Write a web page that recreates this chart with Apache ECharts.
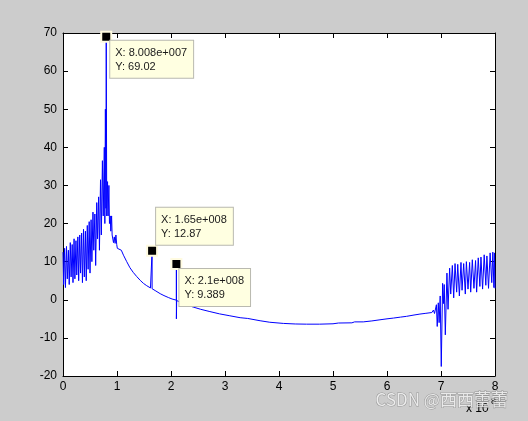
<!DOCTYPE html>
<html><head><meta charset="utf-8">
<script src="https://cdn.jsdelivr.net/npm/echarts@6/dist/echarts.min.js"></script>
<style>html,body{margin:0;padding:0;background:#cccccc;}#c{width:528px;height:421px;}</style>
</head><body><div id="c"></div>
<script>
// x in units of 1e8
var leftX = [0.000,0.012,0.030,0.045,0.065,0.080,0.100,0.115,0.135,0.150,0.170,0.185,0.205,0.220,0.240,0.255,0.275,0.290,0.310,0.325,0.345,0.360,0.380,0.395,0.415,0.430,0.450,0.465,0.485,0.500,0.520,0.535,0.555,0.570,0.590,0.605,0.625,0.640,0.660,0.675,0.695,0.710,0.730,0.745,0.765,0.775,0.785,0.795,0.8008,0.810,0.825,0.835,0.850,0.860,0.875,0.885,0.900,0.910,0.925,0.935,0.950,0.965,0.980,0.995];
var leftY = [12.5,4.0,13.5,3.2,14.0,5.5,13.0,4.0,15.0,6.0,14.5,4.5,16.0,5.5,15.5,6.5,16.5,5.0,17.0,7.0,17.5,4.5,18.5,6.0,18.0,5.0,19.5,8.0,20.5,7.0,21.0,10.0,23.0,13.0,22.5,9.0,25.5,16.0,27.0,13.0,31.5,17.0,36.5,22.0,40.0,20.0,50.0,24.0,69.02,22.0,31.0,22.0,30.0,20.0,22.0,18.0,22.0,17.0,17.0,15.0,16.5,14.8,17.0,14.5];
var midX = [1.006,1.08,1.12,1.18,1.24,1.30,1.365,1.43,1.49,1.55,1.62,1.65,1.65,1.65,1.72,1.80,1.87,1.95,2.02,2.1,2.1,2.1,2.105,2.2,2.3,2.41,2.55,2.72,2.9,3.09,3.28,3.42,3.43,3.45,3.65,3.83,4.08,4.10,4.30,4.51,4.75,5.0,5.10,5.13,5.35,5.40,5.56,5.72,5.87,6.00,6.12,6.25,6.36,6.50,6.61,6.72,6.83,6.86,6.88];
var midY = [13.5,13.0,11.7,10.0,8.4,7.2,6.1,5.1,4.3,3.7,3.1,2.9,12.87,2.9,2.3,1.6,1.1,0.6,0.2,-0.1,9.389,-5.0,-0.2,-0.8,-1.4,-1.9,-2.5,-3.1,-3.7,-4.2,-4.7,-4.9,-4.7,-5.1,-5.5,-5.9,-6.2,-6.0,-6.35,-6.4,-6.4,-6.3,-6.1,-6.25,-6.05,-5.8,-5.8,-5.55,-5.25,-5.0,-4.8,-4.55,-4.35,-4.0,-3.75,-3.55,-3.35,-2.7,-3.6];
var rightX = [6.90,6.915,6.93,6.95,6.965,6.985,7.005,7.03,7.045,7.06,7.08,7.11,7.13,7.16,7.18,7.21,7.235,7.26,7.29,7.31,7.34,7.37,7.39,7.42,7.45,7.47,7.50,7.53,7.55,7.58,7.61,7.64,7.66,7.69,7.72,7.74,7.77,7.80,7.83,7.85,7.88,7.91,7.94,7.96,7.98,7.99,8.00];
var rightY = [-4.0,-1.3,-7.0,-0.8,-6.0,1.0,-17.5,4.3,-1.0,4.0,-9.2,7.0,-2.5,8.3,1.5,9.0,0.5,9.5,2.0,9.3,1.0,9.8,2.5,9.5,1.5,10.0,2.8,9.8,2.0,10.5,3.0,10.3,2.0,11.0,3.5,11.2,2.8,11.8,3.8,11.5,3.0,12.3,4.5,12.5,3.2,12.3,3.0];
var tipX = [0.8008, 1.65, 2.1];
var tipY = [69.02, 12.87, 9.389];
var tipXText = ['8.008e+007', '1.65e+008', '2.1e+008'];
var tipYText = ['69.02', '12.87', '9.389'];
var xTicks = [0,1,2,3,4,5,6,7,8];
var yTicks = [-20,-10,0,10,20,30,40,50,60,70];

var allX = leftX.concat(midX, rightX);
var allY = leftY.concat(midY, rightY);
var lineData = allX.map(function(x,i){return [x, allY[i]];});

var FONT = '"Liberation Sans", Arial, sans-serif';
var tipPos = [[10,10,'top'],[10,0,'bottom'],[9,11,'top']];
var mp = tipX.map(function(x,i){
  return {
    coord:[x, tipY[i]],
    label:{
      show:true,
      position:[tipPos[i][0], tipPos[i][1]],
      align:'left',
      verticalAlign:tipPos[i][2],
      formatter:'X: '+tipXText[i]+'\nY: '+tipYText[i],
      backgroundColor:'#ffffe1',
      borderColor:'#b9b9b0',
      borderWidth:1,
      padding:[5,6,4,5],
      lineHeight:14,
      fontSize:11,
      fontFamily:FONT,
      color:'#1a1a1a'
    }
  };
});

var axisCommon = {
  type:'value',
  axisLine:{show:true, onZero:false, lineStyle:{color:'#000', width:1}},
  axisTick:{show:true, inside:true, length:5, lineStyle:{color:'#000'}},
  splitLine:{show:false}
};
function ax(extra){ return Object.assign({}, JSON.parse(JSON.stringify(axisCommon)), extra); }

var chart = echarts.init(document.getElementById('c'), null, {renderer:'canvas'});
chart.setOption({
  animation:false,
  backgroundColor:'#cccccc',
  grid:{left:63, right:33, top:33, bottom:45, show:true, backgroundColor:'#ffffff', borderWidth:0},
  xAxis:[
    ax({position:'bottom', min:xTicks[0], max:xTicks[xTicks.length-1], interval:1,
        axisLabel:{show:true, color:'#000', fontSize:12, fontFamily:FONT, margin:5}}),
    ax({position:'top', min:xTicks[0], max:xTicks[xTicks.length-1], interval:1, axisLabel:{show:false}})
  ],
  yAxis:[
    ax({position:'left', min:yTicks[0], max:yTicks[yTicks.length-1], interval:10,
        axisLabel:{show:true, color:'#000', fontSize:12, fontFamily:FONT, margin:6}}),
    ax({position:'right', min:yTicks[0], max:yTicks[yTicks.length-1], interval:10, axisLabel:{show:false}})
  ],
  series:[{
    type:'line',
    xAxisIndex:0, yAxisIndex:0,
    data:lineData,
    showSymbol:false,
    symbol:'none',
    sampling:null,
    clip:true,
    lineStyle:{color:'#0000ff', width:1},
    markPoint:{
      symbol:'rect',
      symbolSize:10,
      silent:true,
      itemStyle:{color:'#000000', borderColor:'#fffbe0', borderWidth:2},
      data:mp
    }
  }],
  graphic:[
    {type:'text', left:466, top:403, style:{text:'x 10', fontSize:12, fontFamily:FONT, fill:'#000'}},
    {type:'text', left:491, top:397, style:{text:'8', fontSize:9, fontFamily:FONT, fill:'#000'}},
    {type:'text', left:375, top:391, z:100, style:{text:'CSDN @西西蕾蕾', fontSize:17, fontFamily:'"Noto Sans CJK SC", ' + FONT, fill:'rgba(250,250,250,0.8)', stroke:'rgba(100,100,100,0.5)', lineWidth:1}}
  ]
});
</script>
</body></html>
